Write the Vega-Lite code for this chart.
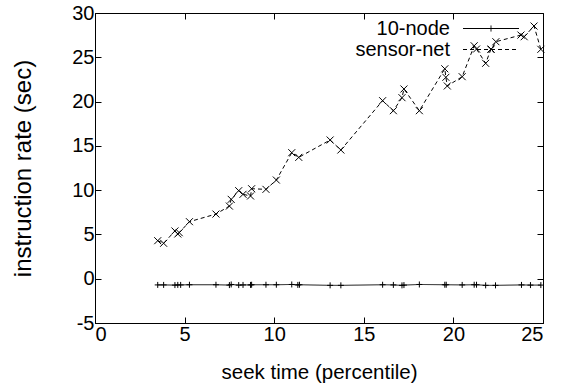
{
  "$schema": "https://vega.github.io/schema/vega-lite/v6.json",
  "autosize": "none",
  "width": 448,
  "height": 310,
  "padding": {"left": 95, "top": 13, "right": 20, "bottom": 67},
  "background": "white",
  "config": {
    "view": {"stroke": "black", "strokeWidth": 1},
    "font": "Liberation Sans",
    "axis": {"grid": false, "domainColor": "black", "tickColor": "black", "labelColor": "black", "titleColor": "black", "labelFont": "Liberation Sans", "titleFont": "Liberation Sans", "labelFontSize": 20, "titleFontSize": 20.5, "titleFontWeight": "normal", "tickSize": -6, "labelPadding": 7}
  },
  "data": {"values": [
    {"x": 3.5, "y": -0.7, "s": "10-node"}, {"x": 3.83, "y": -0.7, "s": "10-node"}, {"x": 4.46, "y": -0.72, "s": "10-node"}, {"x": 4.62, "y": -0.7, "s": "10-node"}, {"x": 4.78, "y": -0.7, "s": "10-node"}, {"x": 5.27, "y": -0.68, "s": "10-node"}, {"x": 6.75, "y": -0.68, "s": "10-node"}, {"x": 7.5, "y": -0.72, "s": "10-node"}, {"x": 7.6, "y": -0.65, "s": "10-node"}, {"x": 8.02, "y": -0.72, "s": "10-node"}, {"x": 8.26, "y": -0.7, "s": "10-node"}, {"x": 8.68, "y": -0.7, "s": "10-node"}, {"x": 8.74, "y": -0.68, "s": "10-node"}, {"x": 9.54, "y": -0.68, "s": "10-node"}, {"x": 10.12, "y": -0.68, "s": "10-node"}, {"x": 10.98, "y": -0.65, "s": "10-node"}, {"x": 11.32, "y": -0.7, "s": "10-node"}, {"x": 11.41, "y": -0.68, "s": "10-node"}, {"x": 13.12, "y": -0.75, "s": "10-node"}, {"x": 13.72, "y": -0.75, "s": "10-node"}, {"x": 16.05, "y": -0.68, "s": "10-node"}, {"x": 16.65, "y": -0.7, "s": "10-node"}, {"x": 17.13, "y": -0.75, "s": "10-node"}, {"x": 17.24, "y": -0.72, "s": "10-node"}, {"x": 18.1, "y": -0.65, "s": "10-node"}, {"x": 19.52, "y": -0.68, "s": "10-node"}, {"x": 19.6, "y": -0.68, "s": "10-node"}, {"x": 20.49, "y": -0.7, "s": "10-node"}, {"x": 21.16, "y": -0.68, "s": "10-node"}, {"x": 21.29, "y": -0.68, "s": "10-node"}, {"x": 21.8, "y": -0.75, "s": "10-node"}, {"x": 22.35, "y": -0.75, "s": "10-node"}, {"x": 23.8, "y": -0.7, "s": "10-node"}, {"x": 24.3, "y": -0.72, "s": "10-node"}, {"x": 24.88, "y": -0.72, "s": "10-node"},
    {"x": 3.5, "y": 4.29, "s": "sensor-net"}, {"x": 3.83, "y": 4.0, "s": "sensor-net"}, {"x": 4.46, "y": 5.39, "s": "sensor-net"}, {"x": 4.62, "y": 5.05, "s": "sensor-net"}, {"x": 4.7, "y": 5.2, "s": "sensor-net"}, {"x": 5.27, "y": 6.44, "s": "sensor-net"}, {"x": 6.75, "y": 7.3, "s": "sensor-net"}, {"x": 7.5, "y": 8.2, "s": "sensor-net"}, {"x": 7.6, "y": 8.96, "s": "sensor-net"}, {"x": 8.02, "y": 9.94, "s": "sensor-net"}, {"x": 8.26, "y": 9.53, "s": "sensor-net"}, {"x": 8.68, "y": 9.34, "s": "sensor-net"}, {"x": 8.74, "y": 10.16, "s": "sensor-net"}, {"x": 9.54, "y": 10.09, "s": "sensor-net"}, {"x": 10.12, "y": 11.14, "s": "sensor-net"}, {"x": 10.98, "y": 14.23, "s": "sensor-net"}, {"x": 11.37, "y": 13.7, "s": "sensor-net"}, {"x": 13.12, "y": 15.66, "s": "sensor-net"}, {"x": 13.72, "y": 14.53, "s": "sensor-net"}, {"x": 16.05, "y": 20.1, "s": "sensor-net"}, {"x": 16.65, "y": 18.97, "s": "sensor-net"}, {"x": 17.13, "y": 20.44, "s": "sensor-net"}, {"x": 17.24, "y": 21.42, "s": "sensor-net"}, {"x": 18.1, "y": 18.97, "s": "sensor-net"}, {"x": 19.52, "y": 23.7, "s": "sensor-net"}, {"x": 19.58, "y": 22.74, "s": "sensor-net"}, {"x": 19.66, "y": 21.76, "s": "sensor-net"}, {"x": 20.49, "y": 22.81, "s": "sensor-net"}, {"x": 21.16, "y": 26.3, "s": "sensor-net"}, {"x": 21.29, "y": 25.93, "s": "sensor-net"}, {"x": 21.8, "y": 24.32, "s": "sensor-net"}, {"x": 22.1, "y": 25.93, "s": "sensor-net"}, {"x": 22.37, "y": 26.76, "s": "sensor-net"}, {"x": 23.77, "y": 27.51, "s": "sensor-net"}, {"x": 23.95, "y": 27.32, "s": "sensor-net"}, {"x": 24.5, "y": 28.53, "s": "sensor-net"}, {"x": 24.88, "y": 25.9, "s": "sensor-net"}
  ]},
  "encoding": {
    "x": {"field": "x", "type": "quantitative", "scale": {"domain": [0, 25], "nice": false, "zero": false}},
    "y": {"field": "y", "type": "quantitative", "scale": {"domain": [-5, 30], "nice": false, "zero": false}}
  },
  "layer": [
    {
      "mark": {"type": "line", "color": "black", "strokeWidth": 1},
      "encoding": {
        "x": {"field": "x", "type": "quantitative", "title": "seek time (percentile)", "axis": {"values": [0, 5, 10, 15, 20, 25], "titlePadding": 18}},
        "y": {"field": "y", "type": "quantitative", "title": "instruction rate (sec)", "axis": {"values": [-5, 0, 5, 10, 15, 20, 25, 30], "titlePadding": 36, "titleFontSize": 24, "labelExpr": "replace(datum.label, '−', '-')"}},
        "strokeDash": {"field": "s", "type": "nominal", "scale": {"domain": ["10-node", "sensor-net"], "range": [[1, 0], [4, 3]]},
          "legend": {"orient": "none", "legendX": 385.5, "legendY": 5, "title": null, "symbolSize": 400, "symbolStrokeWidth": 1, "symbolStrokeColor": "black", "symbolFillColor": "transparent", "symbolOpacity": 1, "labelAlign": "right", "labelOffset": -51.5, "labelFontSize": 20, "labelFont": "Liberation Sans", "labelColor": "black", "labelLimit": 300, "padding": 0, "rowPadding": 0,
            "encode": {"symbols": {"update": {"shape": {"signal": "datum.value === '10-node' ? 'M-2.8,0L2.8,0M0,-0.3L0,0.3' : 'M-2.8,0L2.8,0M-0.35,-0.35L0.35,0.35M-0.35,0.35L0.35,-0.35'"}}}}}}
      }
    },
    {
      "transform": [{"filter": "datum.s === '10-node'"}],
      "mark": {"type": "point", "filled": false, "stroke": "black", "strokeWidth": 1, "opacity": 1, "size": 36, "shape": "M-1,0L1,0M0,-1L0,1"},
      "encoding": {
        "x": {"field": "x", "type": "quantitative", "axis": null},
        "y": {"field": "y", "type": "quantitative", "axis": null}
      }
    },
    {
      "transform": [{"filter": "datum.s === 'sensor-net'"}],
      "mark": {"type": "point", "filled": false, "stroke": "black", "strokeWidth": 1, "opacity": 1, "size": 49, "shape": "M-1,-1L1,1M-1,1L1,-1"},
      "encoding": {
        "x": {"field": "x", "type": "quantitative", "axis": null},
        "y": {"field": "y", "type": "quantitative", "axis": null}
      }
    },
    {
      "mark": {"type": "point", "opacity": 0},
      "encoding": {
        "x": {"field": "x", "type": "quantitative", "axis": {"orient": "top", "labels": false, "title": null, "domain": false, "values": [0, 5, 10, 15, 20, 25]}},
        "y": {"field": "y", "type": "quantitative", "axis": {"orient": "right", "labels": false, "title": null, "domain": false, "values": [-5, 0, 5, 10, 15, 20, 25, 30]}}
      }
    }
  ],
  "resolve": {"axis": {"x": "independent", "y": "independent"}}
}
